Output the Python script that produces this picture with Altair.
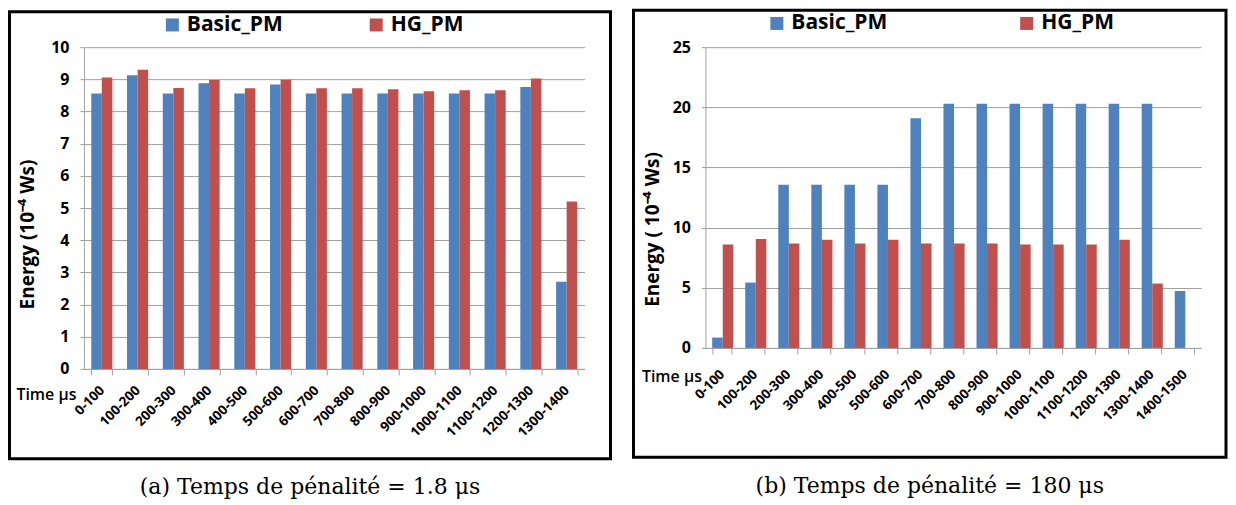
import altair as alt
import pandas as pd

# ---------------- data ----------------
series = ["Basic_PM", "HG_PM"]
colors = ["#4F81BD", "#C0504D"]

cats_a = ["0-100", "100-200", "200-300", "300-400", "400-500", "500-600", "600-700",
          "700-800", "800-900", "900-1000", "1000-1100", "1100-1200", "1200-1300", "1300-1400"]
basic_a = [8.56, 9.13, 8.56, 8.88, 8.56, 8.84, 8.56, 8.56, 8.56, 8.56, 8.56, 8.56, 8.76, 2.71]
hg_a = [9.06, 9.30, 8.73, 8.98, 8.72, 8.99, 8.72, 8.72, 8.69, 8.63, 8.66, 8.66, 9.03, 5.20]

cats_b = ["0-100", "100-200", "200-300", "300-400", "400-500", "500-600", "600-700",
          "700-800", "800-900", "900-1000", "1000-1100", "1100-1200", "1200-1300",
          "1300-1400", "1400-1500"]
basic_b = [0.86, 5.43, 13.57, 13.57, 13.57, 13.57, 19.1, 20.3, 20.3, 20.3, 20.3, 20.3, 20.3, 20.3, 4.73]
hg_b = [8.59, 9.05, 8.67, 9.0, 8.67, 9.0, 8.67, 8.67, 8.67, 8.59, 8.59, 8.59, 9.0, 5.35, None]

yticks_a = [0, 1, 2, 3, 4, 5, 6, 7, 8, 9, 10]
yticks_b = [0, 5, 10, 15, 20, 25]

SANS = "Open Sans"
SERIF = "DejaVu Serif"
GRID = "#a0a0a0"


def panel(cats, basic, hg, yticks, ytitle, caption, W, H, frame, legx, legy, colpad,
          ytx, yty, xtx, xty, lab_pad, xlab_pad):
    df = pd.DataFrame({
        "Time": cats + cats,
        "Series": [series[0]] * len(cats) + [series[1]] * len(cats),
        "Energy": list(basic) + list(hg),
    })
    bars = alt.Chart(df).mark_bar().encode(
        x=alt.X("Time:N", sort=cats,
                scale=alt.Scale(paddingInner=0.41, paddingOuter=0.205),
                axis=alt.Axis(title="Time μs", titleAngle=0, titleAlign="right",
                              titleBaseline="alphabetic", titleX=xtx, titleY=xty,
                              titleFont=SANS, titleFontSize=16, titleFontWeight=600,
                              titleColor="black",
                              labelAngle=-45, labelAlign="right", labelBaseline="middle",
                              labelFont=SANS, labelFontSize=13.5, labelFontWeight="bold",
                              labelColor="black", labelPadding=xlab_pad,
                              tickBand="extent", tickSize=6, tickColor=GRID,
                              domainColor=GRID, grid=False)),
        xOffset=alt.XOffset("Series:N", sort=series),
        y=alt.Y("Energy:Q", scale=alt.Scale(domain=[yticks[0], yticks[-1]], nice=False),
                axis=alt.Axis(values=yticks, title=ytitle, titleAngle=-90,
                              titleX=ytx, titleY=yty, titleAlign="center",
                              titleBaseline="middle",
                              titleFont=SANS, titleFontSize=19, titleFontWeight="bold",
                              titleColor="black",
                              labelFont=SANS, labelFontSize=16, labelFontWeight="bold",
                              labelColor="black", labelPadding=lab_pad,
                              tickSize=4, tickColor=GRID, domainColor=GRID,
                              grid=True, gridColor=GRID, gridWidth=1)),
        color=alt.Color("Series:N",
                        scale=alt.Scale(domain=series, range=colors),
                        legend=alt.Legend(title=None, orient="none", legendX=legx,
                                          legendY=legy, direction="horizontal",
                                          symbolType="square", symbolSize=169,
                                          symbolStrokeWidth=0, symbolOpacity=1,
                                          labelFont=SANS, labelFontSize=21,
                                          labelFontWeight="bold", labelColor="black",
                                          labelOffset=4, columnPadding=colpad,
                                          labelLimit=300, padding=0)),
    )
    fx, fx2, fy, fy2 = frame
    box = alt.Chart(alt.InlineData(values=[{"k": 1}])).mark_rect(
        fill="white", fillOpacity=0, stroke="black", strokeWidth=3
    ).encode(x=alt.value(fx), x2=alt.value(fx2), y=alt.value(fy), y2=alt.value(fy2))
    return alt.layer(box, bars).properties(
        width=W, height=H,
        title=alt.TitleParams(caption, orient="bottom", anchor="middle", frame="bounds",
                              font=SERIF, fontSize=22, fontWeight="normal",
                              color="black", offset=17, baseline="top"),
    )


left = panel(cats_a, basic_a, hg_a, yticks_a, "Energy (10⁻⁴ Ws)",
             "(a) Temps de pénalité = 1.8 μs",
             501, 322, (-74.5, 527, -35.5, 412), 78, -33, 82,
             -56, 187, -8, 31, 11, 13)
right = panel(cats_b, basic_b, hg_b, yticks_b, "Energy ( 10⁻⁴ Ws)",
              "(b) Temps de pénalité = 180 μs",
              496, 301, (-72, 521, -37, 410.5), 61, -34.5, 128,
              -53, 182, -4, 34, 11, 18)

chart = alt.hconcat(left, right, spacing=19).resolve_legend(color="independent").properties(
    padding={"left": 0, "top": 0, "right": 0, "bottom": 0}
).configure_view(strokeWidth=0)

chart.save("out.html", embed_options={"renderer": "svg", "actions": False})
